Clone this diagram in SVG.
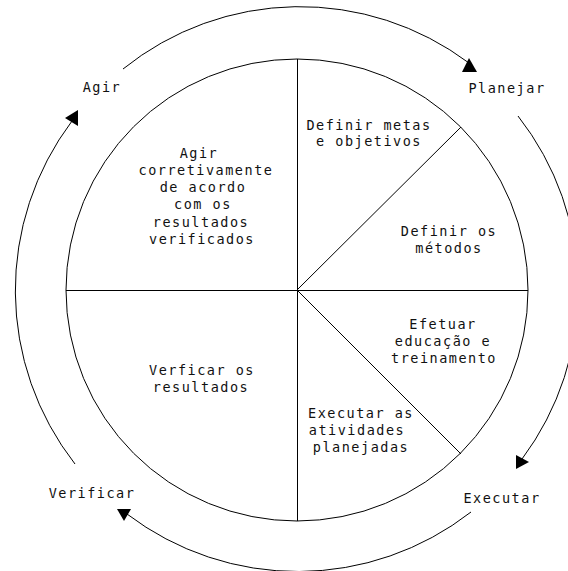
<svg xmlns="http://www.w3.org/2000/svg" width="568" height="571" viewBox="0 0 568 571">
<style>
.ln{fill:none;stroke:#000;stroke-width:1}
.ah{fill:#000;stroke:none}
text{font-family:"DejaVu Sans Mono","Liberation Mono",monospace;font-size:13.5px;letter-spacing:1.5px;fill:#111;text-anchor:middle}
</style>
<rect width="568" height="571" fill="#fff"/>
<g id="wheel">
<circle class="ln" cx="297" cy="290" r="231"/>
<line class="ln" x1="297.5" y1="59" x2="297.5" y2="521"/>
<line class="ln" x1="66" y1="290.5" x2="528" y2="290.5"/>
<line class="ln" x1="297" y1="290" x2="461" y2="127"/>
<line class="ln" x1="297" y1="290" x2="461" y2="454"/>
</g>
<g id="sector-plan1"><text x="369" y="130">Definir metas</text><text x="369" y="146">e objetivos</text></g>
<g id="sector-plan2"><text x="449" y="236">Definir os</text><text x="449" y="253">métodos</text></g>
<g id="sector-do1"><text x="443" y="329">Efetuar</text><text x="443" y="346">educação e</text><text x="444" y="363">treinamento</text></g>
<g id="sector-do2"><text x="361" y="418">Executar as</text><text x="357" y="435">atividades</text><text x="361" y="452">planejadas</text></g>
<g id="sector-check"><text x="202" y="375">Verficar os</text><text x="201" y="392">resultados</text></g>
<g id="sector-act"><text x="199" y="158">Agir</text><text x="206" y="175">corretivamente</text><text x="203" y="192">de acordo</text><text x="203" y="209">com os</text><text x="201" y="227">resultados</text><text x="202" y="244">verificados</text></g>
<g id="node-planejar"><text x="507" y="93">Planejar</text></g>
<g id="node-executar"><text x="502" y="503">Executar</text></g>
<g id="node-verificar"><text x="92" y="498">Verificar</text></g>
<g id="node-agir"><text x="102" y="92">Agir</text></g>
<g id="connectors">
<path class="ln" d="M123,69 A282,282 0 0,1 469,63"/>
<polygon class="ah" points="469,58 462,72 477,72"/>
<path class="ln" d="M518,116 A282,282 0 0,1 522,459"/>
<polygon class="ah" points="516,455 516,469 529,462"/>
<path class="ln" d="M471,512 A282,282 0 0,1 127,514"/>
<polygon class="ah" points="117,509 131,509 124,521"/>
<path class="ln" d="M75,464 A282,282 0 0,1 72,121"/>
<polygon class="ah" points="78,110 78,126 65,118"/>
</g>
</svg>
